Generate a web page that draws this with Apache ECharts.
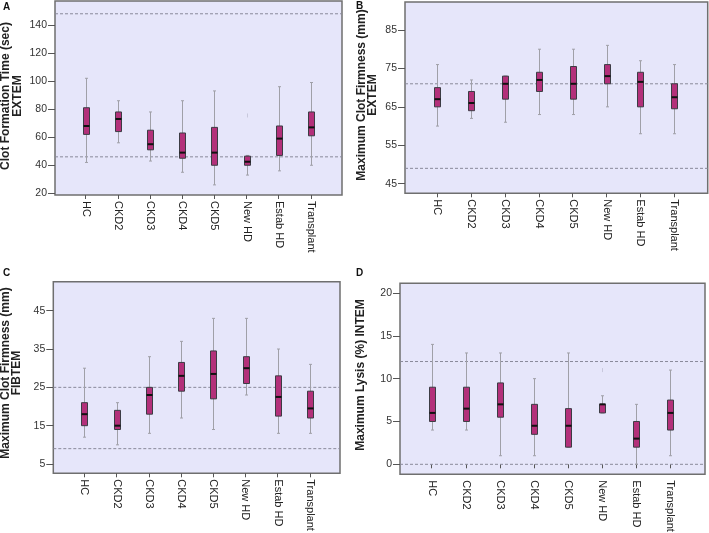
<!DOCTYPE html>
<html>
<head>
<meta charset="utf-8">
<script src="https://cdn.jsdelivr.net/npm/echarts@6/dist/echarts.min.js"></script>
<style>
html,body{margin:0;padding:0;background:#fff;}
#chart{width:709px;height:533px;}
</style>
</head>
<body>
<div id="chart"></div>
<script>
// ---------- DATA ----------
const categories = ['HC', 'CKD2', 'CKD3', 'CKD4', 'CKD5', 'New HD', 'Estab HD', 'Transplant'];

// each row: [lower whisker, Q1, median, Q3, upper whisker]
const cftExtem = [
  [42, 62, 68, 81, 102],
  [56, 64, 73, 78, 86],
  [43, 51, 55, 65, 78],
  [35, 45, 49, 63, 86],
  [26, 40, 49, 67, 93],
  [33, 40, 42.5, 46.5, 47],
  [36, 47, 59, 68, 96],
  [40, 61, 67, 78, 99]
];
const mcfExtem = [
  [60, 65, 67, 70, 76],
  [62, 64, 66, 69, 72],
  [61, 67, 71, 73, 73],
  [63, 69, 72, 74, 80],
  [63, 67, 71, 75.5, 80],
  [65, 71, 73, 76, 81],
  [58, 65, 71.5, 74, 77],
  [58, 64.5, 67.5, 71, 76]
];
const mcfFibtem = [
  [12, 15, 18, 21, 30],
  [10, 14, 15, 19, 21],
  [13, 18, 23, 25, 33],
  [17, 24, 28, 31.5, 37],
  [14, 22, 28.5, 34.5, 43],
  [23, 26, 30, 33, 43],
  [13, 17.5, 22.5, 28, 35],
  [13, 17, 19.5, 24, 31]
];
const mlIntem = [
  [4, 5, 6, 9, 14],
  [4, 5, 6.5, 9, 13],
  [1, 5.5, 7, 9.5, 13],
  [1, 3.5, 4.5, 7, 10],
  [2, 2, 4.5, 6.5, 13],
  [6, 6, 7, 7, 8],
  [0, 2, 3, 5, 7],
  [1, 4, 6, 7.5, 11]
];
// outliers: [category index, value]
const cftExtemOutliers = [[5, 75.5]];
const mlIntemOutliers = [[5, 11]];

// reference (normal range) lines
const cftExtemRef = [148, 46];
const mcfExtemRef = [71, 49];
const mcfFibtemRef = [25, 9];
const mlIntemRef = [12, 0];

// y tick settings [min, max, interval]
const cftExtemTicks = [20, 140, 20];
const mcfExtemTicks = [45, 85, 10];
const mcfFibtemTicks = [5, 45, 10];
const mlIntemTicks = [0, 20, 5];

const axisTitles = [
  ['Clot Formation Time (sec)', 'EXTEM'],
  ['Maximum Clot Firmness (mm)', 'EXTEM'],
  ['Maximum Clot Firmness (mm)', 'FIBTEM'],
  ['Maximum Lysis (%) INTEM']
];
const panelLetters = ['A', 'B', 'C', 'D'];

// ---------- LAYOUT (pixels) ----------
const FONT = '"Liberation Sans", Arial, Helvetica, sans-serif';
const layouts = [
  {frame: {l: 55, t: 1, r: 342, b: 195}, tickTop: 25, tickBottom: 193.3, inner: {l: 69.6, r: 327},
    titleX: [5.5, 17.5], titleY: 96, letter: {x: 3, y: 2}},
  {frame: {l: 405, t: 2, r: 707.7, b: 193.3}, tickTop: 30, tickBottom: 183.7, inner: {l: 420.4, r: 691.2},
    titleX: [362, 373], titleY: 95, letter: {x: 356, y: 1}},
  {frame: {l: 53.3, t: 281.7, r: 340, b: 473.3}, tickTop: 310.7, tickBottom: 464, inner: {l: 68.2, r: 326.1},
    titleX: [5.7, 16.7], titleY: 373, letter: {x: 3, y: 268}},
  {frame: {l: 400, t: 283.3, r: 705, b: 474.3}, tickTop: 293, tickBottom: 464.3, inner: {l: 414.7, r: 687},
    titleX: [361], titleY: 375, letter: {x: 356, y: 268}}
];

const panels = [
  {data: cftExtem, outliers: cftExtemOutliers, ref: cftExtemRef, ticks: cftExtemTicks},
  {data: mcfExtem, outliers: [], ref: mcfExtemRef, ticks: mcfExtemTicks},
  {data: mcfFibtem, outliers: [], ref: mcfFibtemRef, ticks: mcfFibtemTicks},
  {data: mlIntem, outliers: mlIntemOutliers, ref: mlIntemRef, ticks: mlIntemTicks}
];

const grid = [], xAxis = [], yAxis = [], series = [], graphic = [];

panels.forEach((p, i) => {
  const L = layouts[i];
  const [tmin, tmax, tint] = p.ticks;
  const scale = (tmax - tmin) / (L.tickBottom - L.tickTop);
  const valAt = px => tmin + (L.tickBottom - px) * scale;
  const fMin = valAt(L.frame.b), fMax = valAt(L.frame.t);
  const fH = L.frame.b - L.frame.t;
  const gF = i * 3, gT = i * 3 + 1, gD = i * 3 + 2;

  // frame grid
  grid.push({left: L.frame.l, top: L.frame.t, width: L.frame.r - L.frame.l, height: fH,
    show: true, backgroundColor: '#e6e6fa', borderColor: '#6f6f6f', borderWidth: 1.5, outerBoundsMode: 'none'});
  xAxis.push({gridIndex: gF, type: 'value', min: 0, max: 1, show: false});
  yAxis.push({gridIndex: gF, type: 'value', min: fMin, max: fMax, show: false});

  // tick grid
  grid.push({left: L.frame.l, top: L.tickTop, width: L.frame.r - L.frame.l, height: L.tickBottom - L.tickTop, outerBoundsMode: 'none'});
  xAxis.push({gridIndex: gT, type: 'value', min: 0, max: 1, show: false});
  yAxis.push({gridIndex: gT, type: 'value', min: tmin, max: tmax, interval: tint,
    axisLine: {show: false},
    axisTick: {show: true, inside: false, length: 7, lineStyle: {color: '#555', width: 1}},
    axisLabel: {fontFamily: FONT, fontSize: 10.5, color: '#333', margin: 8},
    splitLine: {show: false}});

  // data grid
  grid.push({left: L.inner.l, top: L.frame.t, width: L.inner.r - L.inner.l, height: fH, outerBoundsMode: 'none'});
  xAxis.push({gridIndex: gD, type: 'category', data: categories, boundaryGap: true,
    axisLine: {show: false},
    axisTick: {show: true, alignWithLabel: true, length: 4, lineStyle: {color: '#555', width: 1}},
    axisLabel: {interval: 0, rotate: -90, fontFamily: FONT, fontSize: 11, color: '#222', margin: 6}});
  yAxis.push({gridIndex: gD, type: 'value', min: fMin, max: fMax, show: false});

  // reference lines
  series.push({
    type: 'custom', xAxisIndex: gF, yAxisIndex: gF, silent: true, z: 1,
    data: p.ref.map(v => [0, v]),
    encode: {x: 0, y: 1},
    renderItem: (params, api) => {
      const a = api.coord([0, api.value(1)]);
      const b = api.coord([1, api.value(1)]);
      return {type: 'line', shape: {x1: a[0], y1: a[1], x2: b[0], y2: b[1]},
        style: {stroke: '#8a8a9a', lineWidth: 1, lineDash: [3, 2]}};
    }
  });

  // boxes
  series.push({
    type: 'custom', xAxisIndex: gD, yAxisIndex: gD, silent: true, z: 3,
    data: p.data.map((r, k) => [k].concat(r)),
    encode: {x: 0, y: [1, 2, 3, 4, 5]},
    renderItem: (params, api) => {
      const x = api.value(0);
      const lo = api.coord([x, api.value(1)]);
      const q1 = api.coord([x, api.value(2)]);
      const md = api.coord([x, api.value(3)]);
      const q3 = api.coord([x, api.value(4)]);
      const hi = api.coord([x, api.value(5)]);
      const cx = Math.round(lo[0]) + 0.5;
      const hw = 3, cw = 1.5;
      return {type: 'group', children: [
        {type: 'line', shape: {x1: cx, y1: lo[1], x2: cx, y2: hi[1]}, style: {stroke: '#a0a0a8', lineWidth: 1}},
        {type: 'line', shape: {x1: cx - cw, y1: lo[1], x2: cx + cw, y2: lo[1]}, style: {stroke: '#a0a0a8', lineWidth: 1}},
        {type: 'line', shape: {x1: cx - cw, y1: hi[1], x2: cx + cw, y2: hi[1]}, style: {stroke: '#a0a0a8', lineWidth: 1}},
        {type: 'rect', shape: {x: cx - hw, y: q3[1], width: hw * 2, height: Math.max(q1[1] - q3[1], 1)},
          style: {fill: '#b3307a', stroke: '#3c3c44', lineWidth: 1}},
        {type: 'line', shape: {x1: cx - hw, y1: md[1], x2: cx + hw, y2: md[1]}, style: {stroke: '#111', lineWidth: 2}}
      ]};
    }
  });

  // outliers (faint)
  if (p.outliers.length) {
    series.push({
      type: 'custom', xAxisIndex: gD, yAxisIndex: gD, silent: true, z: 2,
      data: p.outliers,
      encode: {x: 0, y: 1},
      renderItem: (params, api) => {
        const c = api.coord([api.value(0), api.value(1)]);
        const cx = Math.round(c[0]) + 0.5;
        return {type: 'line', shape: {x1: cx, y1: c[1] - 2, x2: cx, y2: c[1] + 2},
          style: {stroke: '#c8c8dc', lineWidth: 1}};
      }
    });
  }

  // y-axis titles (rotated)
  axisTitles[i].forEach((t, k) => {
    graphic.push({type: 'text', x: L.titleX[k], y: L.titleY, rotation: Math.PI / 2, silent: true,
      style: {text: t, fontFamily: FONT, fontWeight: 'bold', fontSize: 12, fill: '#222',
        align: 'center', verticalAlign: 'middle'}});
  });
  // panel letter
  graphic.push({type: 'text', x: L.letter.x, y: L.letter.y, silent: true,
    style: {text: panelLetters[i], fontFamily: FONT, fontWeight: 'bold', fontSize: 10, fill: '#111',
      align: 'left', verticalAlign: 'top'}});
});

const chart = echarts.init(document.getElementById('chart'), null, {renderer: 'canvas'});
chart.setOption({
  animation: false,
  backgroundColor: '#ffffff',
  grid, xAxis, yAxis, series, graphic
});
</script>
</body>
</html>
